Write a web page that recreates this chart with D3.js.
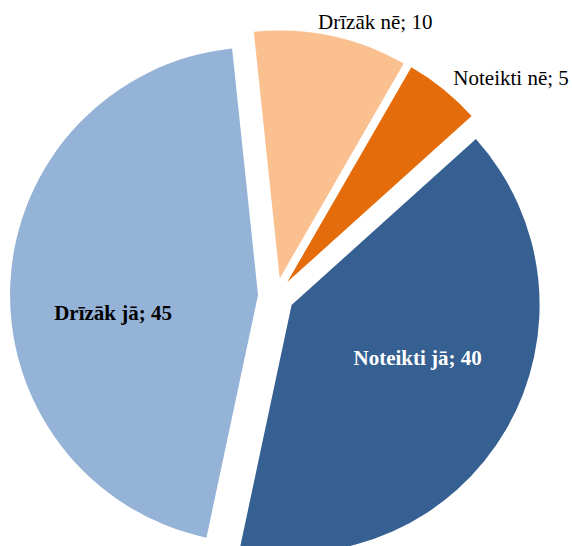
<!DOCTYPE html>
<html>
<head>
<meta charset="utf-8">
<script src="https://cdn.jsdelivr.net/npm/d3@7"></script>
<style>
  html, body { margin: 0; padding: 0; background: #fff; }
  svg text { font-family: "Liberation Serif", "Times New Roman", serif; }
</style>
</head>
<body>
<svg id="chart" width="572" height="546"></svg>
<script>
// data
const categories = ["Noteikti jā", "Drīzāk jā", "Drīzāk nē", "Noteikti nē"];
const values = [40, 45, 10, 5];
const colors = ["#366092", "#95b3d7", "#fac090", "#e46c0a"];

// label placement: angle shift from slice bisector (deg), distance from slice tip (px)
const labelShift = [-7, -10, 8.4, 8.6];
const labelDist = [137, 146, 274, 303];
const labelInside = [true, true, false, false];

const svg = d3.select("#chart");
const cx = 276, cy = 296;
const radius = 248;
const explode = 18;
const rad = (deg) => (deg * Math.PI) / 180;

const data = categories.map((c, i) => ({ name: c, value: values[i], color: colors[i], i }));

const pie = d3
  .pie()
  .sort(null)
  .value((d) => d.value)
  .startAngle(rad(48))
  .endAngle(rad(48) + 2 * Math.PI);

const arc = d3.arc().innerRadius(0).outerRadius(radius);

const arcs = pie(data);

const g = svg.append("g").attr("transform", `translate(${cx}, ${cy})`);

const slice = g
  .selectAll("g.slice")
  .data(arcs)
  .enter()
  .append("g")
  .attr("class", "slice")
  .attr("transform", (d) => {
    const mid = (d.startAngle + d.endAngle) / 2;
    return `translate(${Math.sin(mid) * explode}, ${-Math.cos(mid) * explode})`;
  });

slice
  .append("path")
  .attr("d", arc)
  .attr("fill", (d) => d.data.color);

slice
  .append("text")
  .attr("transform", (d) => {
    const mid = (d.startAngle + d.endAngle) / 2 + rad(labelShift[d.data.i]);
    const r = labelDist[d.data.i];
    return `translate(${Math.sin(mid) * r}, ${-Math.cos(mid) * r})`;
  })
  .attr("text-anchor", "middle")
  .attr("dy", "0.33em")
  .style("font-size", "21px")
  .style("font-weight", (d) => (labelInside[d.data.i] ? "bold" : "normal"))
  .attr("fill", (d) => (d.data.i === 0 ? "#ffffff" : "#000000"))
  .text((d) => `${d.data.name}; ${d.data.value}`);
</script>
</body>
</html>
